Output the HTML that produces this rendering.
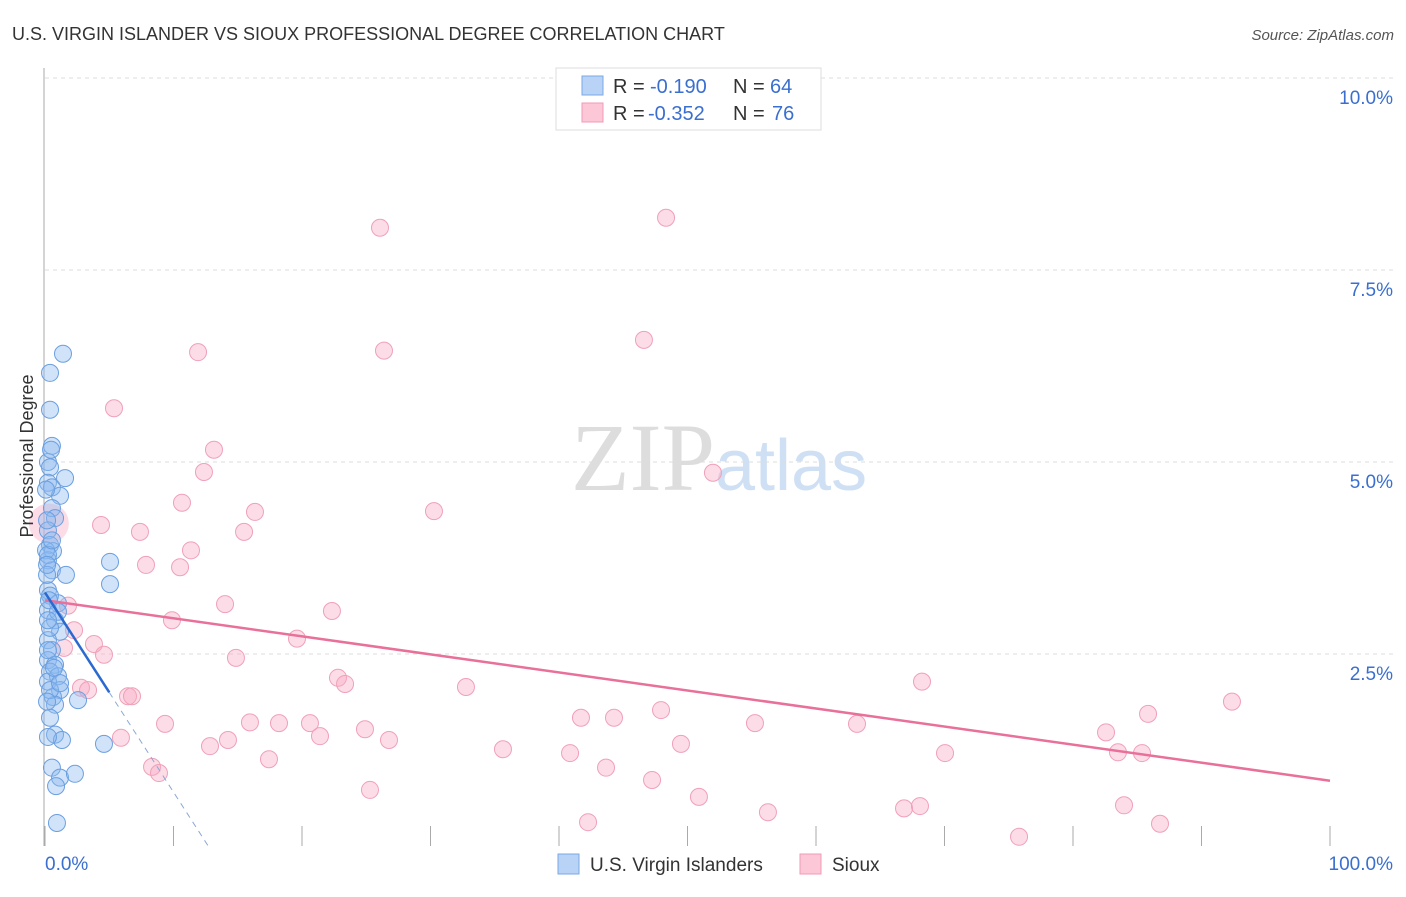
<!DOCTYPE html>
<html><head><meta charset="utf-8"><style>
body{margin:0;background:#fff;font-family:"Liberation Sans",sans-serif}
</style></head><body>
<svg width="1406" height="892" xmlns="http://www.w3.org/2000/svg" font-family="Liberation Sans, sans-serif">
<text x="12" y="40" font-size="18" fill="#333">U.S. VIRGIN ISLANDER VS SIOUX PROFESSIONAL DEGREE CORRELATION CHART</text>
<text x="1394" y="40" font-size="15" fill="#555" font-style="italic" text-anchor="end">Source: ZipAtlas.com</text>
<text x="715" y="490" font-size="96" fill="#ddd" text-anchor="end" font-family="Liberation Serif, serif">ZIP</text>
<text x="715" y="490" font-size="72" fill="#cfe0f5">atlas</text>
<g id="grid"></g><g id="axes"></g><g id="pts"></g><g id="lines"></g>
<text transform="translate(33,456) rotate(-90)" font-size="18" fill="#333" text-anchor="middle">Professional Degree</text>
<g>
<rect x="556" y="68" width="265" height="62" fill="#fff" stroke="#ddd"/>
<rect x="582" y="76" width="21" height="19" fill="#b8d3f5" stroke="#7aa8e6"/>
<rect x="582" y="103" width="21" height="19" fill="#fcc8d8" stroke="#f09ab5"/>
<text x="613" y="93" font-size="20" fill="#333">R =</text>
<text x="650" y="93" font-size="20" fill="#3a6fd0">-0.190</text>
<text x="733" y="93" font-size="20" fill="#333">N =</text>
<text x="770" y="93" font-size="20" fill="#3a6fd0">64</text>
<text x="613" y="120" font-size="20" fill="#333">R =</text>
<text x="648" y="120" font-size="20" fill="#3a6fd0">-0.352</text>
<text x="733" y="120" font-size="20" fill="#333">N =</text>
<text x="772" y="120" font-size="20" fill="#3a6fd0">76</text>
</g>
<g>
<rect x="558" y="854" width="21" height="20" fill="#b8d3f5" stroke="#7aa8e6"/>
<text x="590" y="871" font-size="19" fill="#333">U.S. Virgin Islanders</text>
<rect x="800" y="854" width="21" height="20" fill="#fcc8d8" stroke="#f09ab5"/>
<text x="832" y="871" font-size="19" fill="#333">Sioux</text>
</g>
<script>
const yTicks=[2.5,5,7.5,10];
const yTickLabels=["2.5%","5.0%","7.5%","10.0%"];
const xTicks=[0,10,20,30,40,50,60,70,80,90,100];
const blueXY=[[63,354],[50,373],[50,410],[52,446],[48,462],[50,467],[48,483],[52,487],[60,496],[65,478],[52,508],[55,518],[48,530],[50,545],[53,551],[48,560],[52,570],[66,575],[110,562],[110,584],[48,590],[50,596],[58,603],[48,610],[55,620],[60,632],[48,640],[52,650],[48,660],[55,665],[50,672],[58,676],[48,682],[60,690],[53,697],[78,700],[55,705],[50,718],[55,735],[62,740],[48,737],[104,744],[52,768],[60,778],[56,786],[75,774],[57,823],[48,650],[50,628],[47,575],[46,550],[47,520],[54,668],[50,690],[60,683],[47,702],[49,600],[48,555],[52,540],[46,490],[51,450],[58,612],[48,620],[47,565]].map(p=>[+((p[0]-45)/12.85).toFixed(2),+((846-p[1])/76.8).toFixed(2)]);
const pinkXY=[[380,228],[666,218],[198,352],[384,351],[644,340],[114,408],[214,450],[204,472],[713,473],[182,503],[434,511],[255,512],[101,525],[140,532],[244,532],[191,550],[146,565],[180,567],[225,604],[68,606],[332,611],[172,620],[74,630],[94,644],[297,639],[64,648],[104,655],[236,658],[81,688],[88,690],[128,696],[132,696],[338,678],[345,684],[466,687],[922,682],[1232,702],[1148,714],[165,724],[250,722],[279,723],[310,723],[365,729],[581,718],[614,718],[661,710],[755,723],[857,724],[121,738],[210,746],[228,740],[320,736],[389,740],[503,749],[570,753],[681,744],[945,753],[1106,732],[1118,752],[1142,753],[152,767],[159,773],[269,759],[606,768],[652,780],[370,790],[699,797],[768,812],[904,808],[920,806],[588,822],[1124,805],[1160,824],[1019,837]].map(p=>[+((p[0]-45)/12.85).toFixed(2),+((846-p[1])/76.8).toFixed(2)]);
const pinkTrend=[3.2,0.85];
const blueTrend=[3.3,0,12.7];
const X=v=>45+v*12.85, Y=v=>846-v*76.8;
const NS="http://www.w3.org/2000/svg";
function mk(t,a,p){const e=document.createElementNS(NS,t);for(const k in a)e.setAttribute(k,a[k]);p.appendChild(e);return e;}
const grid=document.getElementById('grid'),axes=document.getElementById('axes'),pts=document.getElementById('pts'),lines=document.getElementById('lines');
yTicks.forEach((v,i)=>{const l=mk('line',{x1:45,x2:1394,y1:Y(v),y2:Y(v),stroke:'#ddd','stroke-dasharray':'4,4'},grid);


const t=mk('text',{x:1393,y:Y(v)+26,'font-size':19,fill:'#3a6fd0','text-anchor':'end'},axes);t.textContent=yTickLabels[i];

});
const ax=mk('line',{x1:44,x2:44,y1:68,y2:846,stroke:'#aaa'},axes);


xTicks.forEach(v=>{const l=mk('line',{x1:X(v),x2:X(v),y1:826,y2:846,stroke:'#aaa'},axes);

});
const t0=mk('text',{x:45,y:870,'font-size':19,fill:'#3a6fd0'},axes);t0.textContent='0.0%';


const t1=mk('text',{x:1393,y:870,'font-size':19,fill:'#3a6fd0','text-anchor':'end'},axes);t1.textContent='100.0%';


pinkXY.forEach(p=>{const c=mk('circle',{cx:X(p[0]),cy:Y(p[1]),r:8.5,fill:'rgba(248,170,195,0.4)',stroke:'#f0a0b8','stroke-width':1},pts);

});
const big=mk('circle',{cx:X(0.3),cy:Y(4.2),r:20,fill:'rgba(248,170,195,0.4)',stroke:'none'},pts);


blueXY.forEach(p=>{const c=mk('circle',{cx:X(p[0]),cy:Y(p[1]),r:8.5,fill:'rgba(140,185,240,0.4)',stroke:'#6a9fe0','stroke-width':1},pts);

});
const pl=mk('line',{x1:X(0),y1:Y(pinkTrend[0]),x2:X(100),y2:Y(pinkTrend[1]),stroke:'#e8709a','stroke-width':2.5},lines);


const bs=(blueTrend[1]-blueTrend[0])/blueTrend[2];
const bl=mk('line',{x1:X(0),y1:Y(blueTrend[0]),x2:X(5),y2:Y(blueTrend[0]+bs*5),stroke:'#2a6ad0','stroke-width':2.5},lines);


const bd=mk('line',{x1:X(5),y1:Y(blueTrend[0]+bs*5),x2:X(blueTrend[2]),y2:Y(blueTrend[1]),stroke:'#8aa8d8','stroke-width':1,'stroke-dasharray':'6,5'},lines);


</script>
</svg>
</body></html>
